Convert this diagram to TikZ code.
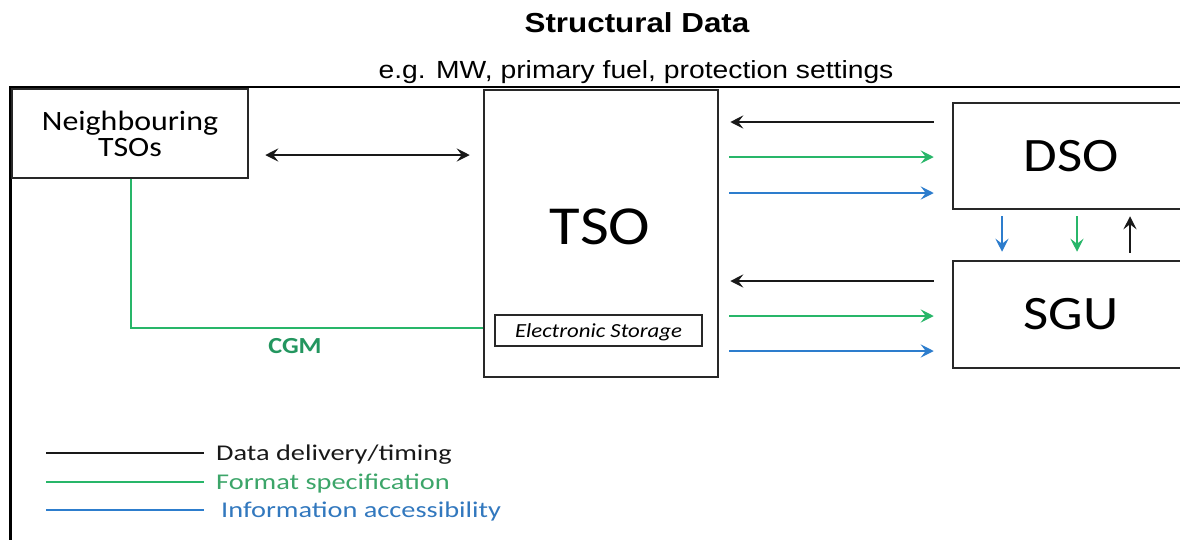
\documentclass[tikz,border=0pt]{standalone}
\usepackage{fontspec}
\setmainfont{Carlito}[FakeStretch=1.14]
\newfontfamily\headfont{Liberation Sans}[FakeStretch=1.14]
\newfontfamily\legendfont{Carlito}[FakeStretch=1.26]
\usetikzlibrary{arrows.meta}

\definecolor{boxline}{RGB}{40,40,40}
\definecolor{ddblack}{RGB}{25,25,25}
\definecolor{fmtgreen}{RGB}{40,182,105}
\definecolor{infoblue}{RGB}{45,125,205}
\definecolor{cgmgreen}{RGB}{35,150,95}
\definecolor{fmttext}{RGB}{60,165,105}
\definecolor{infotext}{RGB}{50,120,190}

\tikzset{
  box/.style={draw=boxline, line width=2.5pt, inner sep=0pt},
  ddline/.style={draw=ddblack, line width=2.4pt},
  fsline/.style={draw=fmtgreen, line width=2.4pt},
  ialine/.style={draw=infoblue, line width=2.4pt},
  headed/.style={-{Stealth[length=13pt,width=13pt,inset=5pt]}},
  twoheaded/.style={{Stealth[length=13pt,width=13pt,inset=5pt]}-{Stealth[length=13pt,width=13pt,inset=5pt]}},
  legendtext/.style={anchor=base west, inner sep=0pt, font=\legendfont\fontsize{22.5}{22.5}\selectfont},
}

\begin{document}
\begin{tikzpicture}[x=1pt, y=-1pt]
\useasboundingbox (0,0) rectangle (1180,539);
\clip (0,0) rectangle (1180,539);

% heading
\node[anchor=base, inner sep=0pt, font=\headfont\bfseries\fontsize{27.5}{27.5}\selectfont] (title) at (637,32) {Structural Data};
\node[anchor=base, inner sep=0pt, font=\headfont\fontsize{24.8}{24.8}\selectfont] (subtitle) at (636,78) {e.g. MW, primary fuel, protection settings};

% outer frame
\draw[line width=2.5pt, draw=black] (1190,87) -- (10.5,87) -- (10.5,545);

% parties
\node[box, minimum width=236pt, minimum height=89pt, align=center,
      font=\fontsize{28}{26}\selectfont] (ntso) at (130,133.5) {Neighbouring\\TSOs};
\node[box, minimum width=234pt, minimum height=287pt] (tso) at (601,233.5) {};
\node[inner sep=0pt, font=\fontsize{55}{55}\selectfont] (tsotext) at (600,227) {TSO};
\node[box, line width=1.8pt, minimum width=207pt, minimum height=31pt, text depth=0pt,
      font=\itshape\fontsize{20}{20}\selectfont] (store) at (598.5,330.5) {Electronic Storage};
\node[box, minimum width=236pt, minimum height=106pt, font=\fontsize{48}{48}\selectfont] (dso) at (1071,156) {DSO};
\node[box, minimum width=236pt, minimum height=107pt, font=\fontsize{48}{48}\selectfont] (sgu) at (1071,314.5) {SGU};

% exchange with neighbouring TSOs
\draw[ddline, twoheaded, shorten <=16pt, shorten >=13pt] (ntso.east |- 0,155) -- (tso.west |- 0,155);
\draw[fsline] (ntso.south -| 131,0) |- (tso.west |- 0,328);
\node[inner sep=0pt, text=cgmgreen, font=\bfseries\fontsize{23}{23}\selectfont] (cgm) at (295,346) {CGM};

% TSO <-> DSO
\draw[ddline, headed, shorten <=18pt, shorten >=11pt] (dso.west |- 0,122) -- (tso.east |- 0,122);
\draw[fsline, headed, shorten <=10pt, shorten >=18pt] (tso.east |- 0,157) -- (dso.west |- 0,157);
\draw[ialine, headed, shorten <=10pt, shorten >=18pt] (tso.east |- 0,193) -- (dso.west |- 0,193);

% TSO <-> SGU
\draw[ddline, headed, shorten <=18pt, shorten >=11pt] (sgu.west |- 0,281) -- (tso.east |- 0,281);
\draw[fsline, headed, shorten <=10pt, shorten >=18pt] (tso.east |- 0,316) -- (sgu.west |- 0,316);
\draw[ialine, headed, shorten <=10pt, shorten >=18pt] (tso.east |- 0,351) -- (sgu.west |- 0,351);

% DSO <-> SGU
\draw[ialine, headed, shorten <=6pt, shorten >=8pt] (dso.south -| 1002,0) -- (sgu.north -| 1002,0);
\draw[fsline, headed, shorten <=6pt, shorten >=8pt] (dso.south -| 1077,0) -- (sgu.north -| 1077,0);
\draw[ddline, headed, shorten <=7pt, shorten >=6pt] (sgu.north -| 1130,0) -- (dso.south -| 1130,0);

% legend
\node[legendtext, text=ddblack] (legdd) at (216,460) {Data delivery/timing};
\node[legendtext, text=fmttext] (legfs) at (216,489) {Format specification};
\node[legendtext, text=infotext] (legia) at (221,517) {Information accessibility};
\coordinate (ddstart) at (46,453);
\coordinate (fsstart) at (46,482);
\coordinate (iastart) at (46,510);
\draw[ddline] (ddstart) -- (ddstart -| 204,0);
\draw[fsline] (fsstart) -- (fsstart -| 204,0);
\draw[ialine] (iastart) -- (iastart -| 204,0);
\end{tikzpicture}
\end{document}
